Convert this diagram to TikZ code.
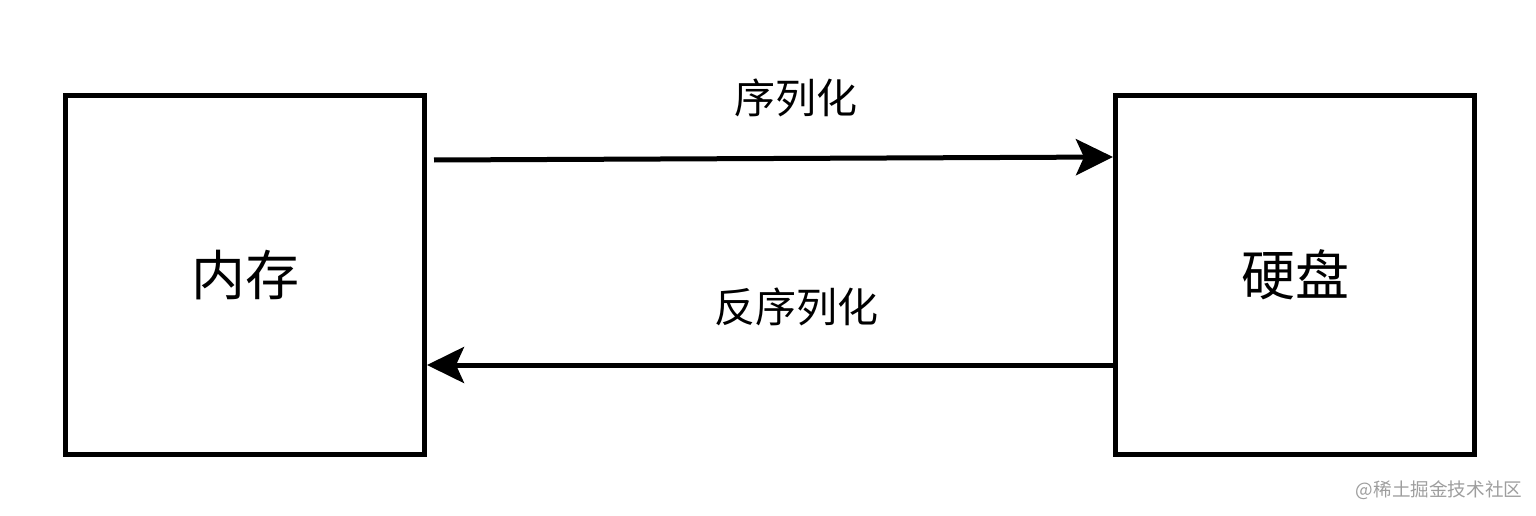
\documentclass[tikz,border=0pt]{standalone}
\usepackage{fontspec}
\setmainfont{Noto Sans CJK SC}
\usetikzlibrary{arrows.meta}
\begin{document}
\begin{tikzpicture}[x=1pt,y=-1pt,
  boxs/.style={draw=black,line width=5pt,minimum width=359pt,minimum height=359pt,inner sep=0pt,font=\fontsize{54}{64}\selectfont},
  conn/.style={line width=5pt,-{Stealth[length=37pt,width=36pt,inset=8pt]}},
  lbl/.style={font=\fontsize{41}{50}\selectfont,inner sep=0pt}]
\useasboundingbox (0,0) rectangle (1536,516);
\node[boxs] (mem) at (245,275) {内存};
\node[boxs] (disk) at (1295,275) {硬盘};
\coordinate (s1) at (434,160);
\coordinate (e1) at (disk.west |- 0,157);
\draw[conn] (s1) -- (e1);
\coordinate (s2) at (disk.west |- 0,365);
\coordinate (e2) at (mem.east |- 0,365);
\draw[conn] (s2) -- (e2);
\node[lbl] (t1) at (796,98) {序列化};
\node[lbl] (t2) at (796,307) {反序列化};
\node[font=\fontsize{18.6}{22}\selectfont,text=black!38,inner sep=0pt] (wm) at (1439,490) {@稀土掘金技术社区};
\end{tikzpicture}
\end{document}
